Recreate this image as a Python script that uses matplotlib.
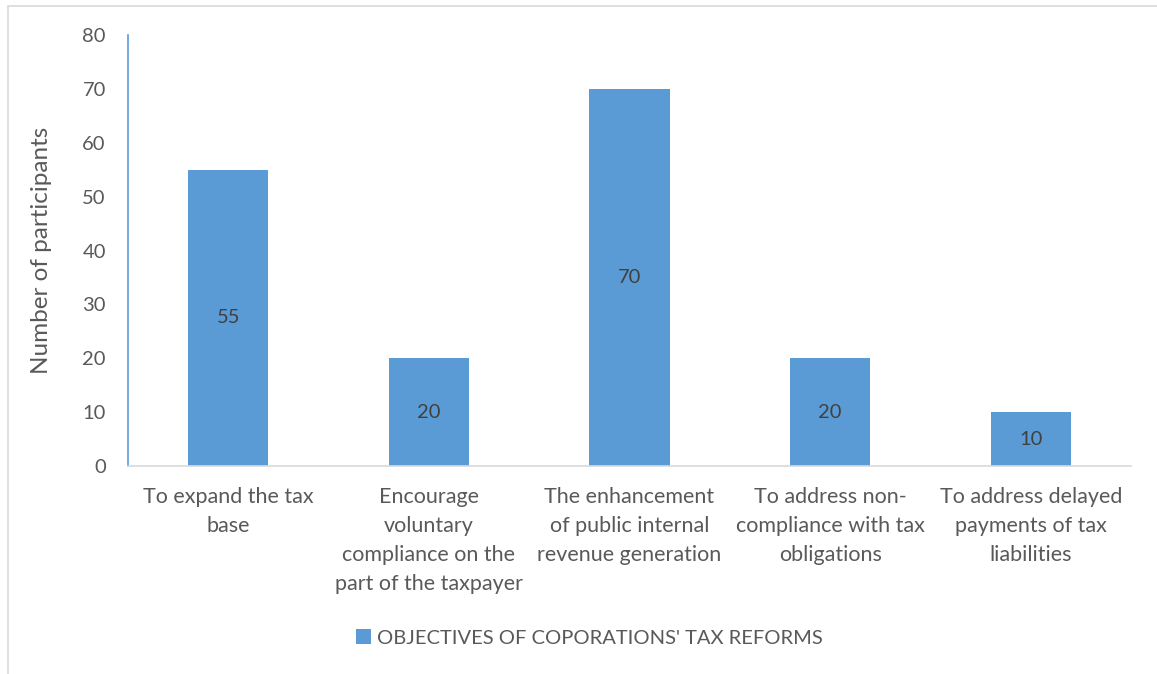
import matplotlib.pyplot as plt
from matplotlib.patches import Rectangle

# Survey data: objectives of corporations' tax reforms
CATEGORIES = [
    "To expand the tax\nbase",
    "Encourage\nvoluntary\ncompliance on the\npart of the taxpayer",
    "The enhancement\nof public internal\nrevenue generation",
    "To address non-\ncompliance with tax\nobligations",
    "To address delayed\npayments of tax\nliabilities",
]
PARTICIPANTS = [55, 20, 70, 20, 10]
Y_TICKS = [0, 10, 20, 30, 40, 50, 60, 70, 80]
SERIES_NAME = "OBJECTIVES OF COPORATIONS' TAX REFORMS"

BAR_COLOR = "#5B9BD5"
TEXT_COLOR = "#595959"
LABEL_COLOR = "#404040"

plt.rcParams["font.family"] = ["Lato", "DejaVu Sans"]

W, H = 1157, 674
fig = plt.figure(figsize=(W / 100, H / 100), dpi=100)

# chart border (light gray frame, open at right and bottom)
fig.patches.append(Rectangle((8 / W, -0.2), 1.2, 1.2 - 6 / H, transform=fig.transFigure,
                             fill=False, edgecolor="#D9D9D9", linewidth=1.2))

ax = fig.add_axes([128 / W, 1 - 466 / H, (1131 - 128) / W, (466 - 35) / H])

x = range(len(CATEGORIES))
bars = ax.bar(x, PARTICIPANTS, width=0.4, color=BAR_COLOR, label=SERIES_NAME, zorder=2)

for rect, v in zip(bars, PARTICIPANTS):
    ax.text(rect.get_x() + rect.get_width() / 2, v / 2, str(v),
            ha="center", va="center", fontsize=14.5, color=LABEL_COLOR)

ax.set_xlim(-0.5, len(CATEGORIES) - 0.5)
ax.set_ylim(0, 80)
ax.set_yticks(Y_TICKS)
ax.set_xticks(list(x))
ax.set_xticklabels(CATEGORIES, fontsize=15.5, color=TEXT_COLOR, linespacing=1.56)
ax.tick_params(axis="y", labelsize=14.5, labelcolor=TEXT_COLOR, length=0, pad=16)
ax.tick_params(axis="x", length=0, pad=15)

for side in ("top", "right"):
    ax.spines[side].set_visible(False)
ax.spines["left"].set_color(BAR_COLOR)
ax.spines["left"].set_linewidth(1.2)
ax.spines["bottom"].set_color("#D9D9D9")
ax.spines["bottom"].set_linewidth(1.2)

ax.set_ylabel("Number of participants", fontsize=17.5, color=TEXT_COLOR, labelpad=22)

fig.legend(loc="center", bbox_to_anchor=(589 / W, 1 - 638 / H), frameon=False,
           fontsize=14.5, labelcolor=TEXT_COLOR, handlelength=0.75, handleheight=0.75,
           handletextpad=0.3)

fig.savefig("out.png", dpi=100)
